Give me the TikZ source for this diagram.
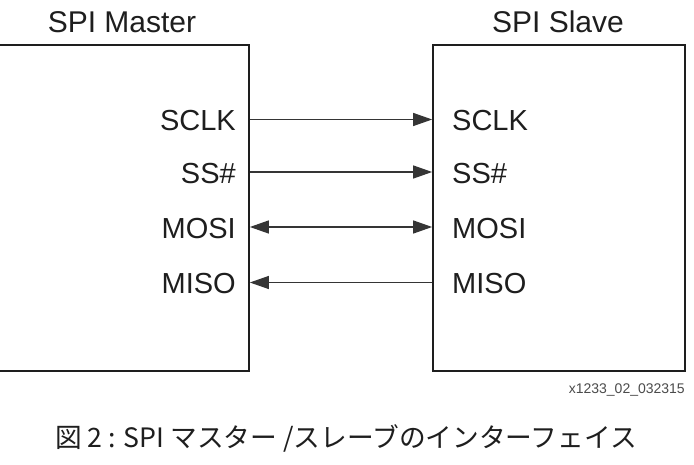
\documentclass[tikz,border=0pt]{standalone}
\usepackage{fontspec}
\setmainfont{Liberation Sans}
\newfontfamily\cjk{Noto Sans CJK JP}
\usetikzlibrary{arrows.meta}
\definecolor{ink}{HTML}{1E1E1E}
\tikzset{
  box/.style={draw=ink, line width=1.7pt, rectangle, inner sep=0pt},
  sig/.style={font=\fontsize{29}{31}\selectfont, text=ink, inner sep=0pt},
  ttl/.style={font=\fontsize{30}{32}\selectfont, text=ink, inner sep=0pt},
  wire/.style={draw=ink!90, line width=1.2pt},
  sigtip/.tip={Triangle[length=19pt,width=13pt]}
}
\begin{document}
\begin{tikzpicture}[x=1pt,y=-1pt]
\useasboundingbox (0,0) rectangle (694,465);
\fill[white] (0,0) rectangle (694,465);
\clip (0,0) rectangle (694,465);
% boxes
\node[box, minimum width=269pt, minimum height=326pt] (master) at (114.5,208) {};
\node[box, minimum width=252pt, minimum height=326pt] (slave) at (559,208) {};
% titles
\node[ttl] (mt) at (122,22) {SPI Master};
\node[ttl] (st) at (558,22) {SPI Slave};
% master labels
\node[sig, anchor=east] (msclk) at (236,121) {SCLK};
\node[sig, anchor=east] (mss) at (236,174) {SS\#};
\node[sig, anchor=east] (mmosi) at (236,229) {MOSI};
\node[sig, anchor=east] (mmiso) at (236,284) {MISO};
% slave labels
\node[sig, anchor=west] (ssclk) at (452,121) {SCLK};
\node[sig, anchor=west] (sss) at (452,174) {SS\#};
\node[sig, anchor=west] (smosi) at (452,229) {MOSI};
\node[sig, anchor=west] (smiso) at (452,284) {MISO};
% connection points
\coordinate (a1) at (master.east |- 0,119.5);
\coordinate (b1) at (slave.west |- 0,119.5);
\coordinate (a2) at (master.east |- 0,172);
\coordinate (b2) at (slave.west |- 0,172);
\coordinate (a3) at (master.east |- 0,227);
\coordinate (b3) at (slave.west |- 0,227);
\coordinate (a4) at (master.east |- 0,282.5);
\coordinate (b4) at (slave.west |- 0,282.5);
\draw[wire, -sigtip] (a1) -- (b1);
\draw[wire, -sigtip] (a2) -- (b2);
\draw[wire, sigtip-sigtip] (a3) -- (b3);
\draw[wire, sigtip-] (a4) -- (b4);
% figure id
\node[font=\fontsize{14}{16}\selectfont, text=ink!80, anchor=east, inner sep=0pt] (fid) at (685,390) {x1233\_02\_032315};
% caption
\node[font=\cjk\fontsize{26.7}{29}\selectfont, text=ink, inner sep=0pt] (cap) at (346,438) {図 2 : SPI マスター /スレーブのインターフェイス};
\end{tikzpicture}
\end{document}
